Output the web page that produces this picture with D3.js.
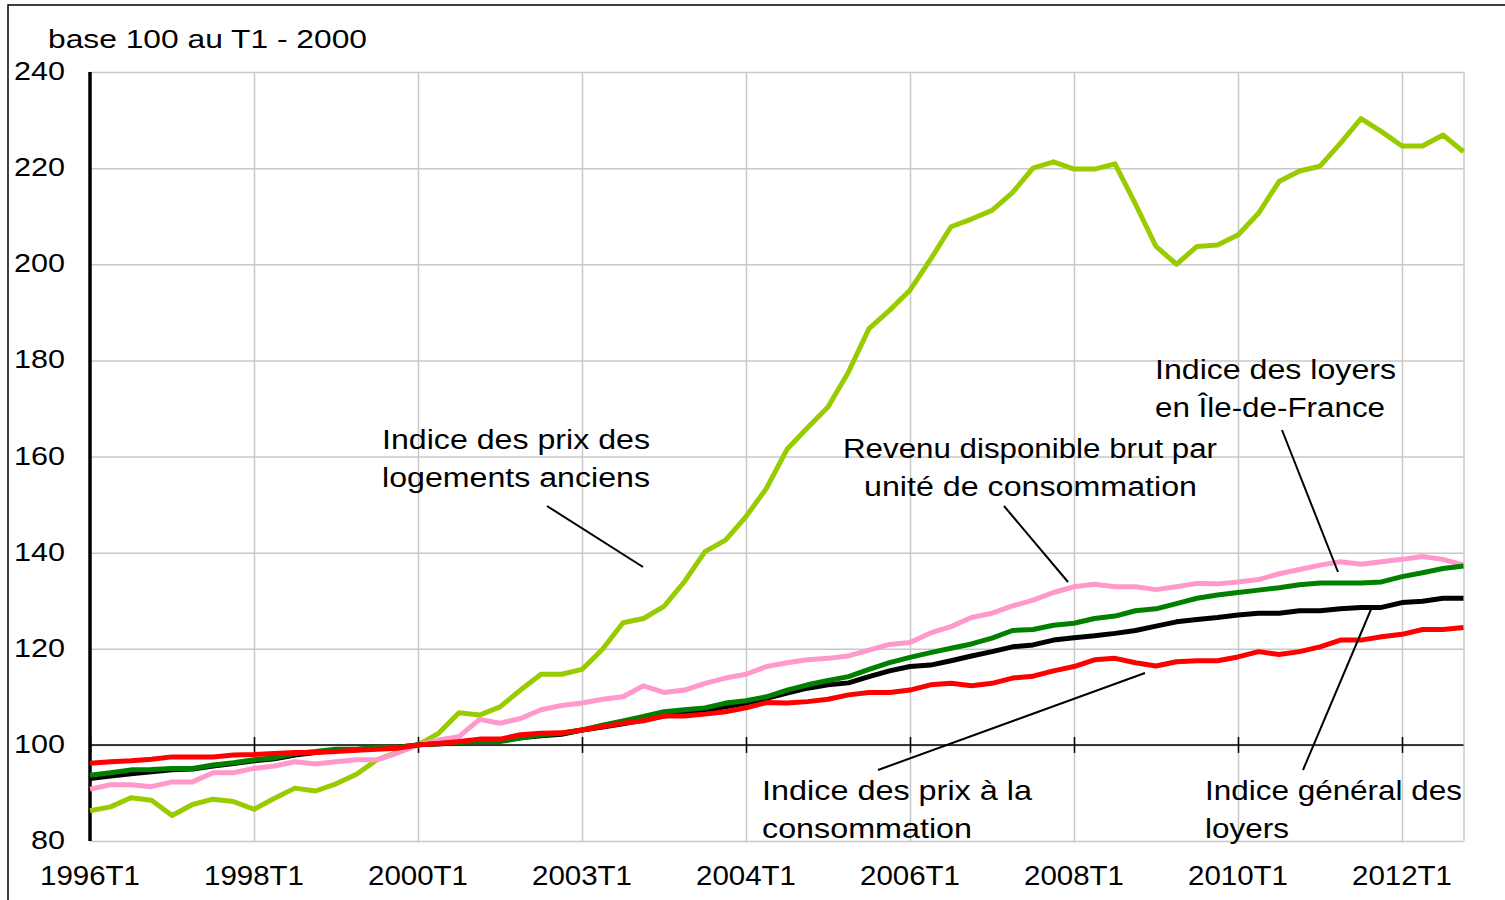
<!DOCTYPE html>
<html>
<head>
<meta charset="utf-8">
<script src="https://cdn.jsdelivr.net/npm/d3@7"></script>
<style>
  body { margin: 0; background: #fff; }
  svg { display: block; font-family: "Liberation Sans", Arial, sans-serif; }
  .grid line { stroke: #c8c8c8; stroke-width: 1.5; }
  .grid path { display: none; }
</style>
</head>
<body>
<svg width="1505" height="900"></svg>
<script>
// quarters, 1996T1 .. 2012T4
var quarters = [
  "1996T1","1996T2","1996T3","1996T4","1997T1","1997T2","1997T3","1997T4",
  "1998T1","1998T2","1998T3","1998T4","1999T1","1999T2","1999T3","1999T4",
  "2000T1","2000T2","2000T3","2000T4","2001T1","2001T2","2001T3","2001T4",
  "2002T1","2002T2","2002T3","2002T4","2003T1","2003T2","2003T3","2003T4",
  "2004T1","2004T2","2004T3","2004T4","2005T1","2005T2","2005T3","2005T4",
  "2006T1","2006T2","2006T3","2006T4","2007T1","2007T2","2007T3","2007T4",
  "2008T1","2008T2","2008T3","2008T4","2009T1","2009T2","2009T3","2009T4",
  "2010T1","2010T2","2010T3","2010T4","2011T1","2011T2","2011T3","2011T4",
  "2012T1","2012T2","2012T3","2012T4"
];

// tick positions and their labels (label text as printed on the source chart)
var tickQuarters = ["1996T1","1998T1","2000T1","2002T1","2004T1","2006T1","2008T1","2010T1","2012T1"];
var tickLabels   = ["1996T1","1998T1","2000T1","2003T1","2004T1","2006T1","2008T1","2010T1","2012T1"];
var yTicks = [80, 100, 120, 140, 160, 180, 200, 220, 240];

var prixLogements = [
  86.3, 87.1, 89.0, 88.5, 85.3, 87.6, 88.7, 88.2, 86.6, 88.9, 91.0, 90.4, 91.9, 93.9, 96.9, 98.5,
  100.0, 102.4, 106.7, 106.2, 107.9, 111.4, 114.7, 114.7, 115.7, 119.9, 125.4, 126.3, 128.8, 134.0, 140.2, 142.6,
  147.5, 153.4, 161.5, 166.0, 170.3, 177.6, 186.6, 190.4, 194.6, 201.0, 207.8, 209.4, 211.2, 214.9, 220.0, 221.3,
  219.8, 219.8, 220.9, 212.5, 203.7, 200.0, 203.7, 204.0, 206.1, 210.6, 217.2, 219.4, 220.4, 225.2, 230.3, 227.6,
  224.6, 224.6, 226.9, 223.4
];
var loyersIdf = [
  90.8, 91.7, 91.7, 91.3, 92.3, 92.3, 94.2, 94.2, 95.1, 95.6, 96.5, 96.0, 96.5, 96.9, 96.9, 98.3,
  100.0, 101.0, 101.7, 105.3, 104.5, 105.5, 107.3, 108.2, 108.7, 109.5, 110.0, 112.3, 110.9, 111.4, 112.8, 113.9,
  114.7, 116.3, 117.1, 117.7, 118.0, 118.5, 119.7, 120.9, 121.3, 123.3, 124.6, 126.5, 127.4, 128.9, 130.1, 131.7,
  132.9, 133.4, 132.9, 132.9, 132.3, 132.9, 133.6, 133.5, 133.9, 134.4, 135.6, 136.5, 137.4, 138.1, 137.6, 138.1,
  138.6, 139.2, 138.6, 137.4
];
var loyersGeneral = [
  93.0, 93.5, 94.0, 94.4, 94.8, 95.0, 95.6, 96.1, 96.7, 97.1, 97.9, 98.4, 98.9, 99.0, 99.4, 99.5,
  100.0, 100.2, 100.5, 100.8, 101.0, 101.5, 101.9, 102.2, 103.1, 103.7, 104.4, 105.2, 106.0, 106.5, 107.2, 107.9,
  108.7, 109.7, 110.8, 111.8, 112.5, 112.9, 114.2, 115.4, 116.3, 116.6, 117.5, 118.5, 119.4, 120.4, 120.8, 121.8,
  122.3, 122.7, 123.2, 123.8, 124.7, 125.6, 126.1, 126.5, 127.0, 127.4, 127.4, 127.9, 127.9, 128.3, 128.6, 128.6,
  129.6, 129.9, 130.5, 130.5
];
var revenu = [
  93.7, 94.2, 94.8, 94.9, 95.1, 95.1, 95.8, 96.3, 96.9, 97.3, 98.2, 98.6, 99.1, 99.1, 99.5, 99.5,
  100.0, 100.3, 100.5, 100.7, 100.7, 101.4, 102.1, 102.4, 103.1, 104.1, 105.0, 105.9, 106.9, 107.3, 107.7, 108.7,
  109.2, 110.0, 111.4, 112.5, 113.4, 114.2, 115.7, 117.1, 118.2, 119.2, 120.1, 121.0, 122.2, 123.8, 124.0, 124.9,
  125.3, 126.3, 126.8, 127.9, 128.3, 129.4, 130.5, 131.2, 131.7, 132.2, 132.7, 133.3, 133.7, 133.7, 133.7, 133.9,
  135.0, 135.8, 136.7, 137.2
];
var ipc = [
  96.2, 96.5, 96.7, 97.0, 97.5, 97.5, 97.5, 97.9, 98.0, 98.2, 98.4, 98.4, 98.6, 98.9, 99.1, 99.3,
  100.0, 100.3, 100.7, 101.2, 101.2, 102.1, 102.4, 102.5, 103.1, 103.8, 104.5, 105.0, 106.0, 106.0, 106.4, 106.9,
  107.7, 108.8, 108.7, 109.0, 109.5, 110.4, 110.9, 110.9, 111.4, 112.5, 112.8, 112.3, 112.8, 113.9, 114.3, 115.4,
  116.3, 117.7, 118.0, 117.1, 116.4, 117.3, 117.5, 117.5, 118.3, 119.4, 118.8, 119.4, 120.4, 121.8, 121.8, 122.5,
  123.0, 124.0, 124.0, 124.4
];

// drawing order: last one on top
var series = [
  { values: prixLogements, color: "#99cc00" },
  { values: loyersIdf, color: "#ff99cc" },
  { values: loyersGeneral, color: "#000000" },
  { values: revenu, color: "#008000" },
  { values: ipc, color: "#ff0000" }
];

// callout labels: text lines, anchor, line widths and leader line
var notes = [
  { lines: ["Indice des prix des", "logements anciens"], x: 382, y: 449, widths: [268, 268], size: 27, leader: [547, 506, 643, 567] },
  { lines: ["Revenu disponible brut par", "unité de consommation"], x: [843, 864], y: 458, widths: [374, 333], size: 27, leader: [1004, 506, 1068, 582] },
  { lines: ["Indice des loyers", "en Île-de-France"], x: 1155, y: 379, widths: [241, 230], size: 27, leader: [1282, 430, 1338, 572] },
  { lines: ["Indice des prix à la", "consommation"], x: 762, y: 800, widths: [270, 210], size: 28, leader: [878, 770, 1145, 673] },
  { lines: ["Indice général des", "loyers"], x: 1205, y: 800, widths: [257, 84], size: 28, leader: [1303, 770, 1372, 607] }
];

(function() {
  var svg = d3.select("svg");
  var plotLeft = 90, plotRight = 1463.5, plotTop = 72, plotBottom = 841;

  var x = d3.scalePoint().domain(quarters).range([plotLeft, plotRight]);
  var y = d3.scaleLinear().domain([80, 240]).range([plotBottom, plotTop]);

  // outer frame
  svg.append("rect")
      .attr("x", 8).attr("y", 5).attr("width", 1510).attr("height", 910)
      .attr("fill", "none").attr("stroke", "#000").attr("stroke-width", 1.5);

  // gridlines
  svg.append("g")
      .attr("class", "grid")
      .attr("transform", "translate(" + plotLeft + ",0)")
      .call(d3.axisLeft(y).tickValues(yTicks).tickSize(-(plotRight - plotLeft)).tickFormat(""));

  svg.append("g")
      .attr("class", "grid")
      .attr("transform", "translate(0," + plotBottom + ")")
      .call(d3.axisBottom(x).tickValues(tickQuarters.concat(["2012T4"])).tickSize(0).tickFormat(""))
      .selectAll("line").attr("y2", -(plotBottom - plotTop));

  // the horizontal axis crosses at 100
  var xAxis = svg.append("g")
      .attr("transform", "translate(0," + y(100) + ")")
      .call(d3.axisBottom(x).tickValues(tickQuarters).tickSize(8).tickFormat(""));
  xAxis.select(".domain").attr("stroke", "#000").attr("stroke-width", 1.5)
      .attr("d", "M" + plotLeft + ",0H" + plotRight);
  xAxis.selectAll(".tick line").attr("y1", -8).attr("stroke-width", 1.5);

  // x tick labels at the bottom
  svg.append("g")
      .selectAll("text")
      .data(tickQuarters)
      .enter()
      .append("text")
      .attr("x", function(d) { return x(d); })
      .attr("y", 885)
      .attr("text-anchor", "middle")
      .attr("font-size", 28)
      .attr("textLength", 100)
      .attr("lengthAdjust", "spacingAndGlyphs")
      .text(function(d, i) { return tickLabels[i]; });

  // y tick labels
  svg.append("g")
      .selectAll("text")
      .data(yTicks)
      .enter()
      .append("text")
      .attr("x", 65)
      .attr("y", function(d) { return y(d) + 8; })
      .attr("text-anchor", "end")
      .attr("font-size", 26)
      .attr("textLength", function(d) { return String(d).length * 17; })
      .attr("lengthAdjust", "spacingAndGlyphs")
      .text(function(d) { return d; });

  svg.append("text")
      .attr("x", 48).attr("y", 48)
      .attr("font-size", 26)
      .attr("textLength", 319)
      .attr("lengthAdjust", "spacingAndGlyphs")
      .text("base 100 au T1 - 2000");

  // vertical axis
  svg.append("line")
      .attr("x1", plotLeft).attr("x2", plotLeft).attr("y1", plotTop).attr("y2", plotBottom)
      .attr("stroke", "#000").attr("stroke-width", 3.5);

  // series
  var line = d3.line()
      .x(function(d, i) { return x(quarters[i]); })
      .y(function(d) { return y(d); });

  svg.append("g")
      .selectAll("path")
      .data(series)
      .enter()
      .append("path")
      .attr("d", function(d) { return line(d.values); })
      .attr("fill", "none")
      .attr("stroke", function(d) { return d.color; })
      .attr("stroke-width", 5)
      .attr("stroke-linejoin", "round");

  // callouts
  var note = svg.append("g")
      .selectAll("g")
      .data(notes)
      .enter()
      .append("g");

  note.append("line")
      .attr("x1", function(d) { return d.leader[0]; })
      .attr("y1", function(d) { return d.leader[1]; })
      .attr("x2", function(d) { return d.leader[2]; })
      .attr("y2", function(d) { return d.leader[3]; })
      .attr("stroke", "#000")
      .attr("stroke-width", 2);

  note.each(function(d) {
    var g = d3.select(this);
    d.lines.forEach(function(t, i) {
      g.append("text")
          .attr("x", Array.isArray(d.x) ? d.x[i] : d.x)
          .attr("y", d.y + i * 38)
          .attr("font-size", d.size)
          .attr("textLength", d.widths[i])
          .attr("lengthAdjust", "spacingAndGlyphs")
          .text(t);
    });
  });
})();
</script>
</body>
</html>
